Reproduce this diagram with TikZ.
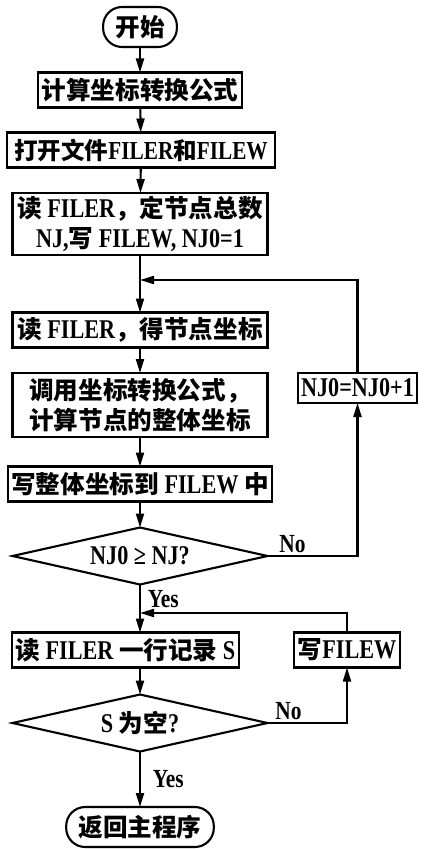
\documentclass[tikz,border=0pt]{standalone}
\usepackage{fontspec}
\setmainfont{Liberation Serif}[Scale=1.1, FakeStretch=0.82]
\newfontfamily\cjk{Noto Sans CJK SC}
\newcommand{\zh}[1]{{\cjk #1}}
\usetikzlibrary{shapes.geometric,arrows.meta}

\begin{document}
\begin{tikzpicture}[font=\bfseries\fontsize{14}{17}\selectfont, line width=1.2pt, line join=miter,
    >={Triangle[length=2.8mm,width=1.6mm]},
    procbox/.style={draw, minimum height=0.7cm, inner xsep=2pt, inner ysep=1pt, outer sep=0pt, align=center},
    termbox/.style={draw, rounded corners=0.38cm, minimum height=0.8cm, inner xsep=7pt, outer sep=0pt},
    decbox/.style={draw, diamond, aspect=4.5, inner sep=0pt, outer sep=0pt, minimum width=5.1cm, minimum height=1.14cm},
    lbl/.style={font=\bfseries\fontsize{13.5}{15}\selectfont, inner sep=1pt}]
        \useasboundingbox (0, 0) rectangle (8.46, -16.98);

        % main column
        \node[termbox] (start) at (2.8, -0.54) {\zh{开始}};
        \node[procbox] (calc) at (2.8, -1.8) {\zh{计算坐标转换公式}};
        \node[procbox, minimum width=5.36cm, font=\bfseries\fontsize{13.4}{15}\selectfont] (open) at (2.82, -3.0) {\zh{打开文件}FILER\zh{和}FILEW};
        \node[procbox, minimum width=5.1cm, minimum height=1.24cm] (readn) at (2.8, -4.48) {\zh{读} FILER\zh{，定节点总数}\\NJ,\zh{写} FILEW, NJ0=1};
        \coordinate (merge1) at (2.8, -5.6);

        % node loop
        \node[procbox, minimum width=5.1cm] (readxy) at (2.8, -6.6) {\zh{读} FILER\zh{，得节点坐标}};
        \node[procbox, minimum width=5.1cm, minimum height=1.28cm] (trans) at (2.8, -8.1) {\zh{调用坐标转换公式，}\\\zh{计算节点的整体坐标}};
        \node[procbox, minimum width=5.1cm] (writexy) at (2.8, -9.68) {\zh{写整体坐标到} FILEW \zh{中}};
        \node[decbox] (chk) at (2.8, -11.12) {NJ0 ≥ NJ?};
        \node[procbox, minimum height=0.6cm] (inc) at (7.15, -7.76) {NJ0=NJ0+1};

        \draw[->] (start) -- (calc);
        \draw[->] (calc) -- (open);
        \draw[->] (open) -- (readn);
        \draw (readn) -- (merge1);
        \draw[->] (merge1) -- (readxy);
        \draw[->] (readxy) -- (trans);
        \draw[->] (trans) -- (writexy);
        \draw[->] (writexy) -- (chk);
        \draw[->] (chk.east) node[lbl, anchor=south west, xshift=0.18cm] {No} -| (inc.south);
        \draw[->] (inc.north) |- (merge1);

        % record loop
        \coordinate (merge2) at (2.8, -12.26);
        \node[procbox, anchor=west] (readl) at (0.24, -13.0) {\zh{读} FILER \zh{一行记录} S};
        \node[procbox] (wr) at (6.94, -13.0) {\zh{写}FILEW};
        \node[decbox] (empty) at (2.8, -14.46) {S \zh{为空}?};
        \node[termbox] (end) at (2.8, -16.54) {\zh{返回主程序}};

        \draw (chk.south) -- node[lbl, right, xshift=0.1cm] {Yes} (merge2);
        \draw[->] (merge2) -- (merge2 |- readl.north);
        \draw[->] (readl.south -| empty.north) -- (empty.north);
        \draw[->] (empty.east) node[lbl, anchor=south west, xshift=0.1cm] {No} -| (wr.south);
        \draw[->] (wr.north) |- (merge2);
        \draw[->] (empty.south) -- node[lbl, right, xshift=0.2cm] {Yes} (end);
    \end{tikzpicture}
\end{document}
